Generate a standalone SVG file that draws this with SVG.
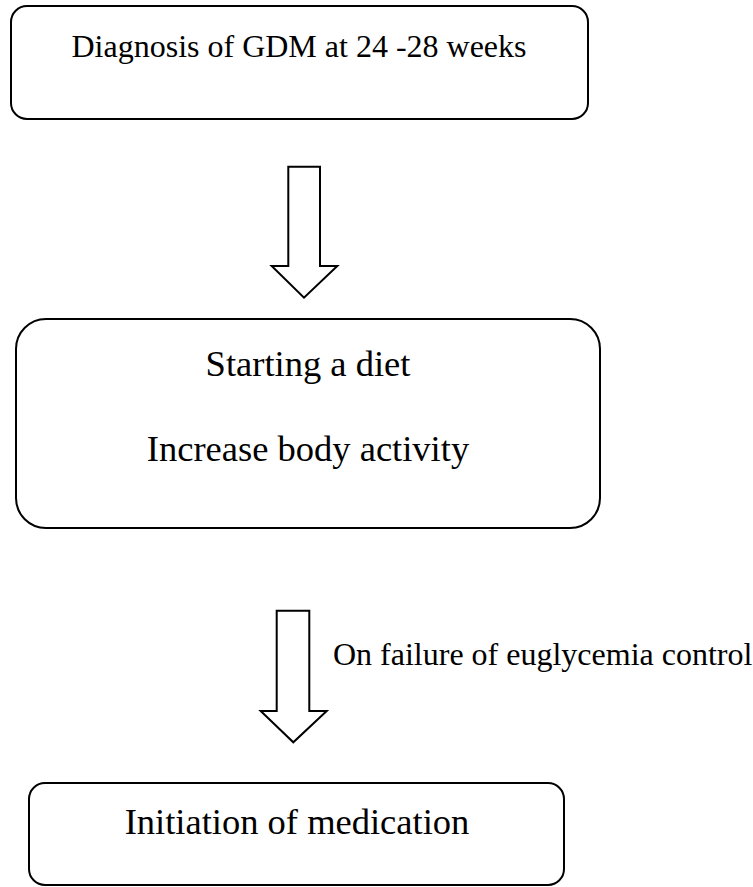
<svg xmlns="http://www.w3.org/2000/svg" width="753" height="887" viewBox="0 0 753 887">
<style>
.box{fill:#fff;stroke:#000;stroke-width:2}
.arr{fill:#fff;stroke:#000;stroke-width:2;stroke-linejoin:miter}
text{font-family:"Liberation Serif","Times New Roman",serif;fill:#000}
.t32{font-size:32px}
.t36{font-size:36.5px}
</style>
<rect width="753" height="887" fill="#fff"/>
<g id="node-diagnosis">
<rect class="box" x="11" y="6" width="577" height="113" rx="16" ry="16"/>
<text class="t32" x="299" y="57" text-anchor="middle">Diagnosis of GDM at 24 -28 weeks</text>
</g>
<g id="node-lifestyle">
<rect class="box" x="16" y="319" width="584" height="209" rx="30" ry="30"/>
<text class="t36" x="308" y="376" text-anchor="middle">Starting a diet</text>
<text class="t36" x="308" y="461" text-anchor="middle">Increase body activity</text>
</g>
<g id="node-medication">
<rect class="box" x="29" y="783" width="535" height="102" rx="16" ry="16"/>
<text class="t36" x="297" y="834" text-anchor="middle">Initiation of medication</text>
</g>
<g id="connectors">
<path class="arr" d="M288.3,166.7 H320 V266 H337.3 L304,297.7 L271.7,266 H288.3 Z"/>
<path class="arr" d="M276.7,610.7 H309.3 V711 H326.7 L293.3,742.3 L260.7,711 H276.7 Z"/>
<text class="t32" x="333" y="665">On failure of euglycemia control</text>
</g>
</svg>
